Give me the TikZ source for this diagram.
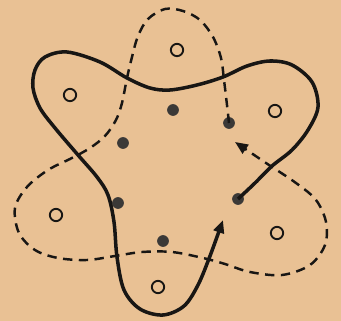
\documentclass[tikz,border=0pt]{standalone}
\usepackage{tikz}
\usetikzlibrary{arrows.meta}
\definecolor{paper}{RGB}{233,193,148}
\definecolor{ink}{RGB}{24,22,20}

\begin{document}
\begin{tikzpicture}[x=0.03cm, y=-0.03cm, >={Triangle[length=11pt,width=9pt]},
    dot/.style={circle, fill=ink!85, inner sep=0pt, minimum size=10pt},
    hole/.style={circle, draw=ink, line width=1.6pt, inner sep=0pt, minimum size=10.5pt},
    loopA/.style={ink, line width=3pt, line join=round},
    loopB/.style={ink, line width=2.1pt, dash pattern=on 8pt off 5.5pt}]
    \fill[paper] (0,0) rectangle (341,321);
    \useasboundingbox (0,0) rectangle (341,321);

    % filled points
    \node[dot] (p1) at (229,123) {};
    \node[dot] (p2) at (173,110) {};
    \node[dot] (p3) at (123,143) {};
    \node[dot] (p4) at (118,203) {};
    \node[dot] (p5) at (163,241) {};
    \node[dot] (p6) at (238,199) {};

    % open points
    \node[hole] (c1) at (177,50) {};
    \node[hole] (c2) at (70,95) {};
    \node[hole] (c3) at (275,111) {};
    \node[hole] (c4) at (56,215) {};
    \node[hole] (c5) at (277,233) {};
    \node[hole] (c6) at (158,287) {};

    \coordinate (endA) at (223,220);
    \coordinate (endB) at (235,142);

    % solid loop
    \draw[loopA, ->] plot[smooth, tension=0.55] coordinates {(p6.center) (255,183) (272,166)
        (292,150) (308,130) (318,107) (312,82) (292,65) (270,61) (247,66) (223,77) (197,85)
        (170,90) (150,88) (127,78) (100,62) (67,52) (45,57) (35,70) (33,88) (40,108) (55,128)
        (78,155) (97,177) (108,195) (114,222) (117,257) (124,290) (140,309) (163,315) (184,306)
        (198,285) (210,256) (endA)};

    % dashed loop
    \draw[loopB, ->] plot[smooth, tension=0.55] coordinates {(p1.center) (227,105) (224,80)
        (221,58) (213,37) (200,20) (183,11) (165,9) (148,19) (138,36) (132,57) (127,78)
        (122,103) (116,120) (105,136) (90,148) (72,158) (48,170) (27,187) (15,208) (19,233)
        (35,250) (58,258) (87,260) (115,256) (142,252) (172,252) (203,258) (225,264) (250,272)
        (282,275) (310,265) (325,245) (326,222) (316,200) (296,183) (266,163) (endB)};
\end{tikzpicture}
\end{document}
